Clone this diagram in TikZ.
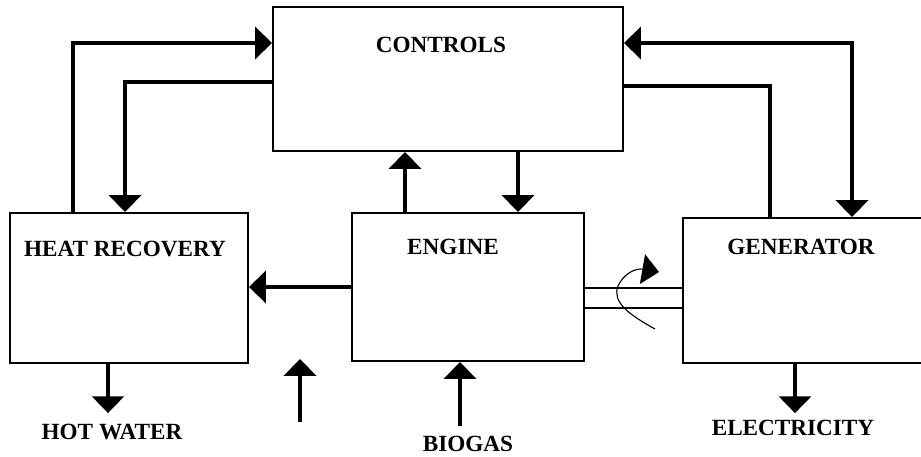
\documentclass[tikz,border=0pt]{standalone}
\usepackage{fontspec}
\setmainfont{Liberation Serif}
\usetikzlibrary{arrows.meta}

\tikzset{
  blockbox/.style={draw, line width=1.4pt, inner sep=0pt},
  boxtitle/.style={font=\fontsize{16.5}{18}\selectfont\bfseries, inner sep=2pt},
  flow/.style={line width=2.3pt, -{Triangle[length=0.42cm,width=0.8cm]}},
  link/.style={line width=2.3pt},
  shaft/.style={line width=1.2pt},
}

\begin{document}
\begin{tikzpicture}[x=0.025cm, y=-0.025cm]
  \useasboundingbox (0,0) rectangle (921,456);

  % blocks
  \foreach \name/\x/\y/\w/\h in {
    controls/448/79/8.75/3.6,
    heat/129/288/5.95/3.75,
    engine/468/287/5.8/3.7,
    gen/806.5/290.5/6.175/3.625
  }{
    \node[blockbox, minimum width=\w cm, minimum height=\h cm] (\name) at (\x,\y) {};
  }

  \node[boxtitle] (controlstitle) at (441,45)  {CONTROLS};
  \node[boxtitle] (heattitle)     at (125,249) {HEAT RECOVERY};
  \node[boxtitle] (enginetitle)   at (453,247) {ENGINE};
  \node[boxtitle] (gentitle)      at (801,247) {GENERATOR};

  \node[boxtitle] (hotwater) at (112,432) {HOT WATER};
  \node[boxtitle] (biogas)   at (468,444) {BIOGAS};
  \node[boxtitle] (elec)     at (793,428) {ELECTRICITY};

  % helper lines
  \coordinate (xa) at (73,0);
  \coordinate (xb) at (125,0);
  \coordinate (xc) at (405,0);
  \coordinate (xd) at (518,0);
  \coordinate (xe) at (770,0);
  \coordinate (xf) at (852,0);
  \coordinate (xg) at (108,0);
  \coordinate (xh) at (795,0);
  \coordinate (xi) at (460,0);
  \coordinate (ya) at (0,43);
  \coordinate (yb) at (0,82);
  \coordinate (yc) at (0,86);
  \coordinate (shafta) at (0,288);
  \coordinate (shaftb) at (0,308);
  \coordinate (lonefoot) at (300,422);
  \coordinate (lonetip)  at (300,359);

  % signals to and from the controls
  \draw[flow] (heat.north -| xa) |- (controls.west |- ya);
  \draw[flow] (controls.west |- yb) -| (heat.north -| xb);
  \draw[flow] (engine.north -| xc) -- (controls.south -| xc);
  \draw[flow] (controls.south -| xd) -- (engine.north -| xd);
  \draw[link] (gen.north -| xe) |- (controls.east |- yc);
  \draw[flow, {Triangle[length=0.42cm,width=0.8cm]}-{Triangle[length=0.42cm,width=0.8cm]}]
    (controls.east |- ya) -| (gen.north -| xf);

  \draw[flow] (engine.west) -- (engine.west -| heat.east);

  % shaft
  \draw[shaft] (engine.east |- shafta) -- (gen.west |- shafta);
  \draw[shaft] (engine.east |- shaftb) -- (gen.west |- shaftb);
  \draw[line width=0.8pt, -{Triangle[length=0.42cm,width=0.75cm]}]
    (655,329) .. controls (628,314) and (612,302) .. (618,286)
              .. controls (624,273) and (636,268) .. (659,272);

  % inputs and outputs
  \draw[flow, shorten >=0.2cm] (heat.south -| xg) -- (hotwater.north -| xg);
  \draw[flow, shorten <=0.19cm] (biogas.north -| xi) -- (engine.south -| xi);
  \draw[flow, shorten >=0.1cm] (gen.south -| xh) -- (elec.north -| xh);
  \draw[flow] (lonefoot) -- (lonetip);
\end{tikzpicture}
\end{document}
